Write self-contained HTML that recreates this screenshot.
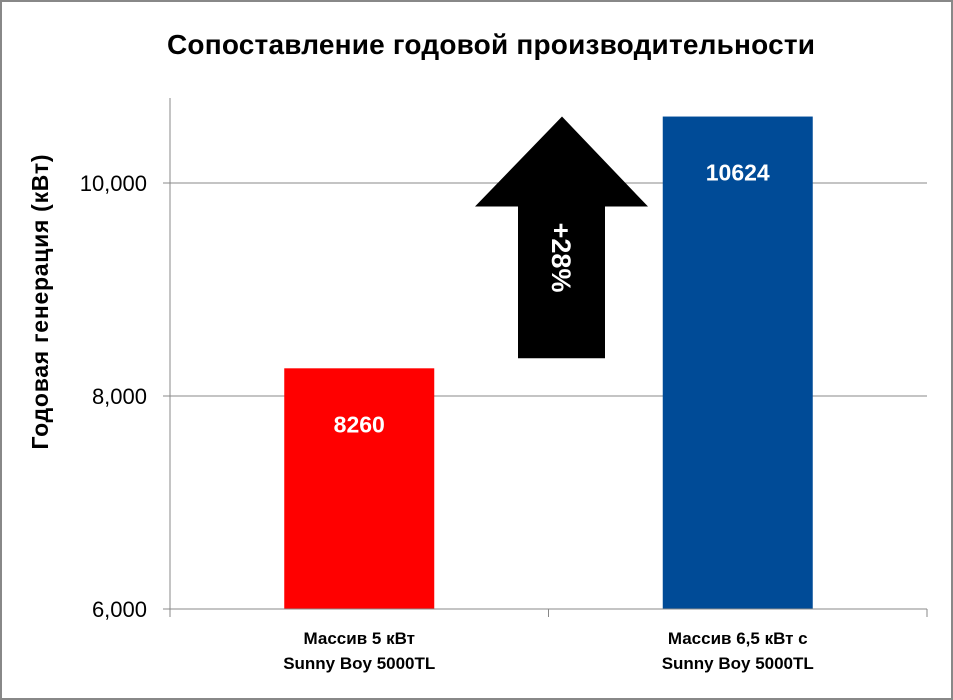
<!DOCTYPE html>
<html><head><meta charset="utf-8"><style>
body{margin:0;background:#fff}
#c{position:relative;width:953px;height:700px;box-sizing:border-box;border:2px solid #888;font-family:"Liberation Sans",sans-serif}
</style></head><body>
<div id="c">
<svg id="s" width="949" height="696" style="position:absolute;left:0;top:0"></svg>
</div>
<script>
const categories=[["Массив 5 кВт","Sunny Boy 5000TL"],["Массив 6,5 кВт с","Sunny Boy 5000TL"]];
const values=[8260,10624];
const colors=["#ff0000","#004b97"];
const ticks=[6000,8000,10000];
const tickLabels=["6,000","8,000","10,000"];
const pctLabel="+28%";
const ox=-2,oy=-2;
const x0=170,x1=927,yTop=98;
function y(v){return 609-(v-6000)*(213/2000)+oy;}
function X(px){return px+ox;}
const s=document.getElementById('s');
const NS="http://www.w3.org/2000/svg";
function el(t,a,txt){const e=document.createElementNS(NS,t);for(const k in a)e.setAttribute(k,a[k]);if(txt!==undefined)e.textContent=txt;s.appendChild(e);return e;}
let e;
e=el('text',{x:X(491),y:54+oy,'text-anchor':'middle','font-size':28,'font-weight':'bold',fill:'#000',textLength:648},'Сопоставление годовой производительности');


ticks.forEach((t,i)=>{
 if(i>0){e=el('line',{x1:X(x0),x2:X(x1),y1:y(t),y2:y(t),stroke:'#888','stroke-width':1});
 
 }
 e=el('line',{x1:X(163),x2:X(x0),y1:y(t),y2:y(t),stroke:'#888'});
 
 
 e=el('text',{x:X(147),y:y(t)+8,'text-anchor':'end','font-size':22,fill:'#000'},tickLabels[i]);
 
 
});
e=el('text',{transform:`translate(${X(48)},${302+oy}) rotate(-90)`,'text-anchor':'middle','font-size':23,'font-weight':'bold',fill:'#000',textLength:295},'Годовая генерация (кВт)');


const bw=(x1-x0)/categories.length;
values.forEach((v,i)=>{
 const cx=x0+bw*(i+0.5),w=150;
 e=el('rect',{x:X(cx-w/2),y:y(v),width:w,height:y(6000)-y(v),fill:colors[i]});
 
 
 e=el('text',{x:X(cx),y:y(v)+64,'text-anchor':'middle','font-size':23,'font-weight':'bold',fill:'#fff'},String(v));
 
 
 categories[i].forEach((ln,j)=>{
  e=el('text',{x:X(cx),y:y(6000)+35+j*25,'text-anchor':'middle','font-size':17,'font-weight':'bold',fill:'#000'},ln);
  
  
 });
});
for(let i=0;i<=categories.length;i++){
 e=el('line',{x1:X(x0+bw*i),x2:X(x0+bw*i),y1:y(6000),y2:y(6000)+8,stroke:'#888'});
 
 
}
e=el('line',{x1:X(x0),x2:X(x0),y1:yTop+oy,y2:y(6000)+8,stroke:'#888'});


e=el('line',{x1:X(x0),x2:X(x1),y1:y(6000),y2:y(6000),stroke:'#888'});


const ax=562,tipY=y(values[1]),baseY=y(values[0])-10;
e=el('polygon',{points:`${X(ax)},${tipY} ${X(648)},${tipY+90} ${X(605)},${tipY+90} ${X(605)},${baseY} ${X(518)},${baseY} ${X(518)},${tipY+90} ${X(475)},${tipY+90}`,fill:'#000'});


e=el('text',{transform:`translate(${X(ax-10)},${y(9300)}) rotate(90)`,'text-anchor':'middle','font-size':27,'font-weight':'bold',fill:'#fff'},pctLabel);


</script>
</body></html>
